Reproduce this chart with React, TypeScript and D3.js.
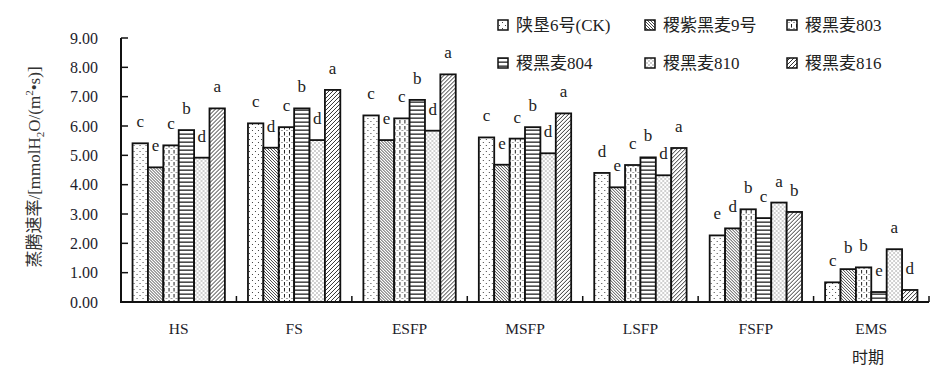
import React from 'react'
import * as d3 from 'd3'

// 时期
const periods = ['HS', 'FS', 'ESFP', 'MSFP', 'LSFP', 'FSFP', 'EMS']
const varieties = ['陕垦6号(CK)', '稷紫黑麦9号', '稷黑麦803', '稷黑麦804', '稷黑麦810', '稷黑麦816']

// transpiration rate per variety, one value per period
const ck = [5.41, 6.09, 6.36, 5.61, 4.40, 2.27, 0.67]
const v9 = [4.59, 5.26, 5.52, 4.68, 3.91, 2.51, 1.12]
const v803 = [5.34, 5.96, 6.26, 5.57, 4.67, 3.16, 1.18]
const v804 = [5.86, 6.60, 6.89, 5.96, 4.93, 2.86, 0.34]
const v810 = [4.92, 5.52, 5.84, 5.07, 4.32, 3.39, 1.80]
const v816 = [6.60, 7.23, 7.76, 6.43, 5.25, 3.07, 0.41]
const series = [ck, v9, v803, v804, v810, v816]

// significance letters, per variety
const sigCk = ['c', 'c', 'c', 'c', 'd', 'e', 'c']
const sig9 = ['e', 'd', 'e', 'e', 'e', 'd', 'b']
const sig803 = ['c', 'c', 'c', 'c', 'c', 'b', 'b']
const sig804 = ['b', 'b', 'b', 'b', 'b', 'c', 'e']
const sig810 = ['d', 'd', 'd', 'd', 'd', 'a', 'a']
const sig816 = ['a', 'a', 'a', 'a', 'a', 'b', 'd']
const letters = [sigCk, sig9, sig803, sig804, sig810, sig816]

const yTicks = [0, 1, 2, 3, 4, 5, 6, 7, 8, 9]

const serif = '"Liberation Serif", "Noto Sans CJK SC", serif'

function Patterns() {
    return (
        <defs>
            <pattern id="p0" width="6" height="6" patternUnits="userSpaceOnUse">
                <rect width="6" height="6" fill="#fff" />
                <rect x="1" y="1" width="1" height="1" fill="#444" />
                <rect x="4" y="4" width="1" height="1" fill="#444" />
            </pattern>
            <pattern id="p1" width="3" height="3" patternUnits="userSpaceOnUse">
                <rect width="3" height="3" fill="#fff" />
                <path d="M-1,-1 L4,4 M-1,2 L1,4 M2,-1 L4,1" stroke="#333" strokeWidth="0.9" />
            </pattern>
            <pattern id="p2" width="5" height="6" patternUnits="userSpaceOnUse">
                <rect width="5" height="6" fill="#fff" />
                <rect x="1" y="0" width="1" height="3.5" fill="#222" />
                <rect x="3.5" y="4" width="1" height="1" fill="#444" />
            </pattern>
            <pattern id="p3" width="4" height="4" patternUnits="userSpaceOnUse">
                <rect width="4" height="4" fill="#fff" />
                <rect x="0" y="1.5" width="4" height="1.3" fill="#222" />
            </pattern>
            <pattern id="p4" width="4" height="4" patternUnits="userSpaceOnUse">
                <rect width="4" height="4" fill="#fff" />
                <rect x="0.5" y="0.5" width="1" height="1" fill="#444" />
                <rect x="2.5" y="2.5" width="1" height="1" fill="#444" />
            </pattern>
            <pattern id="p5" width="4" height="4" patternUnits="userSpaceOnUse">
                <rect width="4" height="4" fill="#fff" />
                <path d="M-1,5 L5,-1 M-1,1 L1,-1 M3,5 L5,3" stroke="#333" strokeWidth="1" />
            </pattern>
        </defs>
    )
}

export default function App() {
    const width = 941
    const height = 373

    const x0 = d3.scaleBand().domain(periods).range([121, 929]).paddingInner(0.2).paddingOuter(0.1)
    const x1 = d3.scaleBand().domain(varieties).range([0, x0.bandwidth()])
    const y = d3.scaleLinear().domain([0, 9]).range([302, 38])
    const step = x0.step()

    const legendCols = [498, 645, 787]
    const legendRows = [25, 63]

    return (
        <svg width={width} height={height} style={{ position: 'absolute', left: 0, top: 0, background: '#fff' }}
            fontFamily={serif}>
            <Patterns />

            {/* bars */}
            {periods.map((p, i) => (
                <g key={p} transform={'translate(' + x0(p) + ',0)'}>
                    {varieties.map((v, j) => {
                        const val = series[j][i]
                        return (
                            <g key={v}>
                                <rect x={x1(v)} y={y(val)} width={x1.bandwidth()} height={y(0) - y(val)}
                                    fill={'url(#p' + j + ')'} stroke="#111" strokeWidth="1.8" />
                                <text x={x1(v)! + x1.bandwidth() / 2} y={y(val) - 16} textAnchor="middle"
                                    fontSize="17" fill="#222">{letters[j][i]}</text>
                            </g>
                        )
                    })}
                </g>
            ))}

            {/* y axis */}
            <line x1={121} x2={121} y1={y(9)} y2={y(0)} stroke="#111" strokeWidth="2" />
            {yTicks.map(t => (
                <g key={t}>
                    <line x1={121} x2={128} y1={y(t)} y2={y(t)} stroke="#111" strokeWidth="1.5" />
                    <text x={98} y={y(t) + 5.5} textAnchor="end" fontSize="16" fill="#1d1d2b">{t.toFixed(2)}</text>
                </g>
            ))}

            {/* x axis */}
            <line x1={120} x2={929} y1={y(0)} y2={y(0)} stroke="#111" strokeWidth="2" />
            {periods.map((p, i) => (
                <g key={p}>
                    {i > 0 && <line x1={x0(p)! - step * 0.1} x2={x0(p)! - step * 0.1} y1={y(0)} y2={y(0) - 6}
                        stroke="#111" strokeWidth="1.5" />}
                    <text x={x0(p)! + x0.bandwidth() / 2} y={334} textAnchor="middle" fontSize="15.5"
                        fill="#1d1d2b">{p}</text>
                </g>
            ))}
            <line x1={929} x2={929} y1={y(0)} y2={y(0) - 6} stroke="#111" strokeWidth="1.5" />
            <text x={868} y={363} textAnchor="middle" fontSize="16" fill="#222">时期</text>

            {/* y title */}
            <text transform="translate(40,167) rotate(-90)" textAnchor="middle" fontSize="17" fill="#333">
                蒸腾速率/[mmolH<tspan fontSize="11" dy="4">2</tspan><tspan dy="-4">O/(m</tspan>
                <tspan fontSize="11" dy="-7">2</tspan><tspan dy="7">•s)]</tspan>
            </text>

            {/* legend */}
            {varieties.map((v, j) => {
                const cx = legendCols[j % 3]
                const cy = legendRows[Math.floor(j / 3)]
                return (
                    <g key={v}>
                        <rect x={cx} y={cy - 5} width={10} height={10} fill={'url(#p' + j + ')'}
                            stroke="#111" strokeWidth="1.5" />
                        <text x={cx + 18} y={cy + 6} fontSize="17" fill="#222">{v}</text>
                    </g>
                )
            })}
        </svg>
    )
}
